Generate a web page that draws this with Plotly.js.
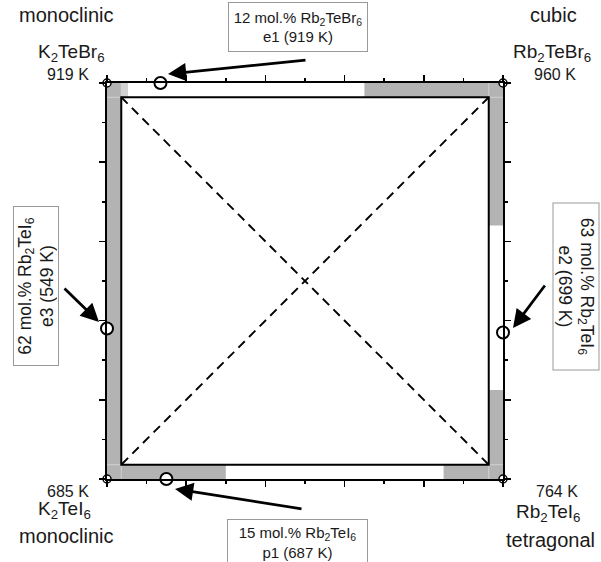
<!DOCTYPE html>
<html>
<head>
<meta charset="utf-8">
<script src="https://cdn.plot.ly/plotly-3.0.1.min.js"></script>
<style>html,body{margin:0;padding:0;background:#fff;}#chart{width:601px;height:562px;}</style>
</head>
<body>
<div id="chart"></div>
<script>
// ---- data ----
// corner compounds: [name, melting temperature, structure]
const cornerNames = ['K<sub>2</sub>TeBr<sub>6</sub>', 'Rb<sub>2</sub>TeBr<sub>6</sub>', 'K<sub>2</sub>TeI<sub>6</sub>', 'Rb<sub>2</sub>TeI<sub>6</sub>'];
const cornerTemps = ['919 K', '960 K', '685 K', '764 K'];
const cornerPhases = ['monoclinic', 'cubic', 'monoclinic', 'tetragonal'];
const cornerX = [0, 100, 0, 100];
const cornerY = [0, 0, 100, 100];

// invariant points on the edges (x = % along edge left->right, y = % from top)
const pointLabels = ['12 mol.% Rb<sub>2</sub>TeBr<sub>6</sub><br>e1 (919 K)',
                     '63 mol.% Rb<sub>2</sub>TeI<sub>6</sub><br>e2 (699 K)',
                     '62 mol.% Rb<sub>2</sub>TeI<sub>6</sub><br>e3 (549 K)',
                     '15 mol.% Rb<sub>2</sub>TeI<sub>6</sub><br>p1 (687 K)'];
const pointX = [13.5, 100, 0, 15];
const pointY = [0, 63, 62, 100];

// grey (solid solution / two-phase) intervals along each edge, in %
const topGrey = [[65, 100]];
const topLight = [[3.6, 5.3]];
const bottomGrey = [[0, 30], [85, 100]];
const leftGrey = [[0, 100]];
const rightGrey = [[0, 36], [77.5, 100]];

// ---- drawing ----
const W = 3.6; // band width in axis units
const GREY = '#b3b3b3';
const LIGHT = '#d2d2d2';
const shapes = [];
function rect(x0, x1, y0, y1, color) {
  shapes.push({type: 'rect', xref: 'x', yref: 'y', x0: x0, x1: x1, y0: y0, y1: y1,
    fillcolor: color, line: {width: 0}, layer: 'below'});
}
topGrey.forEach(s => rect(s[0], s[1], 0, W, GREY));
topLight.forEach(s => rect(s[0], s[1], 0, W, LIGHT));
bottomGrey.forEach(s => rect(s[0], s[1], 100 - W, 100, GREY));
leftGrey.forEach(s => rect(0, W, s[0], s[1], GREY));
rightGrey.forEach(s => rect(100 - W, 100, s[0], s[1], GREY));

function line(x0, y0, x1, y1, color, width, dash) {
  shapes.push({type: 'line', xref: 'x', yref: 'y', x0: x0, y0: y0, x1: x1, y1: y1,
    line: {color: color, width: width, dash: dash || 'solid'}, layer: 'below'});
}
// light separator lines in the corner squares
[[0, W], [100 - W, 100]].forEach(xs => {
  [[0, W], [100 - W, 100]].forEach(ys => {
    const yl = ys[0] === 0 ? W : 100 - W;
    const xl = xs[0] === 0 ? W : 100 - W;
    line(xs[0], yl, xs[1], yl, LIGHT, 1);
    line(xl, ys[0], xl, ys[1], LIGHT, 1);
  });
});
// inner square
shapes.push({type: 'rect', xref: 'x', yref: 'y', x0: W, x1: 100 - W, y0: W, y1: 100 - W,
  line: {color: 'black', width: 2}, fillcolor: 'rgba(0,0,0,0)', layer: 'below'});
// diagonals
line(W, W, 100 - W, 100 - W, 'black', 1.9, '9px,6px');
line(100 - W, W, W, 100 - W, 'black', 1.9, '9px,6px');

const traces = [
  {type: 'scatter', mode: 'markers', x: cornerX, y: cornerY, cliponaxis: false, hoverinfo: 'skip',
   marker: {size: 8, color: 'white', line: {color: 'black', width: 1.5}}},
  {type: 'scatter', mode: 'markers', x: pointX, y: pointY, cliponaxis: false, hoverinfo: 'skip',
   marker: {size: 12, color: 'white', line: {color: 'black', width: 2}}}
];

// pixel -> paper helpers (plot area 107..503 x 83..479)
const px = v => (v - 107) / 396;
const py = v => (479 - v) / 396;
const FONT = 'Liberation Sans, Arial, sans-serif';
const annotations = [];
function txt(text, x, y, size, extra) {
  annotations.push(Object.assign({text: text, xref: 'paper', yref: 'paper', x: px(x), y: py(y),
    xanchor: 'center', yanchor: 'middle', showarrow: false,
    font: {family: FONT, size: size, color: '#1a1a1a'}}, extra || {}));
}
const phasePos = [[66, 15], [553, 15], [66, 536], [550, 540]];
const namePos = [[71, 53], [552, 53], [64, 510], [548, 513]];
const tempPos = [[68, 74], [555, 74], [68, 491], [557, 491]];
for (let i = 0; i < 4; i++) {
  txt(cornerPhases[i], phasePos[i][0], phasePos[i][1], 20);
  txt(cornerNames[i], namePos[i][0], namePos[i][1], 19);
  txt(cornerTemps[i], tempPos[i][0], tempPos[i][1], 16);
}
const box = {bordercolor: '#999999', borderwidth: 1, borderpad: 1, bgcolor: 'white'};
txt(pointLabels[0], 297.5, 27, 15, Object.assign({width: 136, height: 46}, box));
txt(pointLabels[3], 297, 542, 15, Object.assign({width: 137, height: 43}, box));
txt(pointLabels[2], 35.5, 286.5, 17.5, Object.assign({width: 156, height: 42, textangle: -90}, box));
txt(pointLabels[1], 576, 286.5, 17.5, Object.assign({width: 164, height: 43, textangle: 90}, box));

function arrow(hx, hy, tx, ty) {
  annotations.push({text: '', xref: 'paper', yref: 'paper', x: px(hx), y: py(hy),
    ax: tx - hx, ay: ty - hy, showarrow: true, arrowhead: 2, arrowsize: 1.3,
    arrowwidth: 2.8, arrowcolor: 'black', standoff: 0, startstandoff: 0});
}
arrow(168, 74, 307, 60);
arrow(175, 489, 303, 509);
arrow(99, 322, 63, 287);
arrow(513, 328, 546, 284);

const axisCommon = {
  range: [0, 100], showline: true, linewidth: 2, linecolor: 'black', mirror: 'ticks',
  ticks: 'outside', ticklen: 6, tickwidth: 1.5, tickcolor: 'black', tick0: 0, dtick: 20,
  showticklabels: false, showgrid: false, zeroline: false, fixedrange: true,
  minor: {dtick: 10, tick0: 0, ticks: 'outside', ticklen: 3, tickwidth: 1.5, tickcolor: 'black', showgrid: false}
};
const layout = {
  width: 601, height: 562,
  margin: {l: 107, r: 98, t: 83, b: 83, pad: 0},
  paper_bgcolor: 'white', plot_bgcolor: 'white',
  showlegend: false,
  xaxis: Object.assign({}, axisCommon),
  yaxis: Object.assign({}, axisCommon, {range: [100, 0]}),
  shapes: shapes,
  annotations: annotations,
  font: {family: FONT}
};
Plotly.newPlot('chart', traces, layout, {displayModeBar: false, staticPlot: true});
</script>
</body>
</html>
